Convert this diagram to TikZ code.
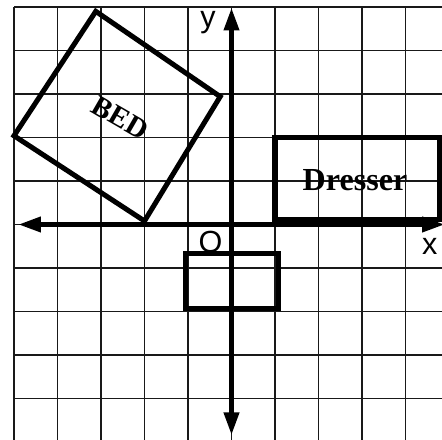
\documentclass[tikz,border=0pt]{standalone}
\usepackage{fontspec}
\setmainfont{Liberation Serif}
\newfontfamily\labelfont{Liberation Sans}
\usepackage{tikz}
\usetikzlibrary{arrows.meta,positioning}

\begin{document}
\begin{tikzpicture}[x=1cm, y=1cm,
    gridline/.style={line width=1.1pt, black!90},
    axis/.style={line width=3pt, -{Triangle[length=0.52cm, width=0.34cm]}},
    furniture/.style={line width=3.3pt, line join=miter},
    axlabel/.style={font=\labelfont\fontsize{20}{20}\selectfont, inner sep=0},
    itemlabel/.style={font=\bfseries\fontsize{21}{21}\selectfont, inner sep=0}]
      % Frame of the picture
      \useasboundingbox (-5.322,-4.954) rectangle (4.839,5.161);
      \clip (-5.322,-4.954) rectangle (4.839,5.161);
      % Grid
      \draw[gridline] (-5,-6) grid (6,5);
      % Axes
      \coordinate (xl) at (-4.9,0);
      \coordinate (xr) at (4.9,0);
      \coordinate (yb) at (0,-4.84);
      \coordinate (yt) at (0,4.98);
      \draw[axis] (0,0) -- (xl);
      \draw[axis] (0,0) -- (xr);
      \draw[axis] (0,0) -- (yt);
      \draw[axis] (0,0) -- (yb);
      \node[axlabel, anchor=base] (ylab) at (-0.54,4.52) {y};
      \node[axlabel, anchor=base] (xlab) at (4.56,-0.70) {x};
      \node[axlabel, anchor=base] (olab) at (-0.48,-0.655) {O};
      % Bed
      \coordinate (bedB) at (-2.0,0.08);
      \coordinate (bedR) at (-0.26,2.94);
      \coordinate (bedT) at (-3.12,4.9);
      \coordinate (bedL) at (-5.0,2.04);
      \draw[furniture] (bedB) -- (bedR) -- (bedT) -- (bedL) -- cycle;
      \node[itemlabel, rotate=-30, font=\bfseries\fontsize{19}{19}\selectfont] (bed) at (-2.56,2.45) {BED};
      % Dresser
      \draw[furniture] (1.0,0.12) rectangle (4.79,2.0);
      \node[itemlabel] (dresser) at (2.84,1.02) {Dresser};
      % Small box below the origin
      \draw[furniture] (-1.05,-0.66) rectangle (1.07,-1.93);
\end{tikzpicture}
\end{document}
